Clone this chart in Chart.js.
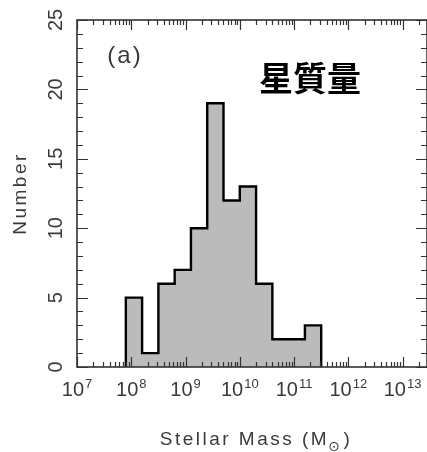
<!DOCTYPE html>
<html>
<head>
<meta charset="utf-8">
<script src="https://cdn.jsdelivr.net/npm/chart.js@4.4.0/dist/chart.umd.min.js"></script>
<style>
  html, body { margin: 0; padding: 0; background: #fff; }
  canvas { display: block; }
</style>
</head>
<body>
<canvas id="massChart" width="427" height="452"></canvas>
<script>
// Panel (a): histogram of stellar masses, x in log10(M / Msun)
const binEdges = [7.9, 8.2, 8.5, 8.8, 9.1, 9.4, 9.7, 10.0, 10.3, 10.6, 10.9, 11.2, 11.5];
const counts = [5, 1, 6, 7, 10, 19, 12, 13, 6, 2, 2, 3];
const xTickExponents = [7, 8, 9, 10, 11, 12, 13];
const yTickLabels = [0, 5, 10, 15, 20, 25];
const xRange = [7, 13.45];
const yRange = [0, 25];

const TEXT_COLOR = '#3a3a3a';
const LATIN = '"Liberation Sans", Arial, sans-serif';

// Outline of the histogram as a stepped line (value holds over the bin before each point)
const stepPoints = [{ x: binEdges[0], y: 0 }];
counts.forEach((c, i) => stepPoints.push({ x: binEdges[i + 1], y: c }));
stepPoints.push({ x: binEdges[binEdges.length - 1], y: 0 });

// Draws the boxed frame with inward ticks, the labels and the panel texts
const framePlugin = {
  id: 'frame',
  afterDatasetsDraw(chart) {
    const { ctx, chartArea: a, scales } = chart;
    const xs = scales.x, ys = scales.y;

    ctx.save();
    ctx.strokeStyle = '#333';
    ctx.lineWidth = 1.2;

    // x ticks (decades + minor 2..9), bottom and top
    ctx.beginPath();
    xTickExponents.forEach(d => {
      for (let k = 1; k <= 9; k++) {
        const v = d + Math.log10(k);
        if (v < xRange[0] || v > xRange[1]) continue;
        const px = Math.round(xs.getPixelForValue(v)) + 0.5;
        const len = k === 1 ? 10 : 5;
        ctx.moveTo(px, a.bottom); ctx.lineTo(px, a.bottom - len);
        ctx.moveTo(px, a.top); ctx.lineTo(px, a.top + len);
      }
    });
    // y ticks every unit, longer every 5
    for (let v = yRange[0]; v <= yRange[1]; v++) {
      const py = Math.round(ys.getPixelForValue(v)) + 0.5;
      const len = v % 5 === 0 ? 11 : 6;
      ctx.moveTo(a.left, py); ctx.lineTo(a.left + len, py);
      ctx.moveTo(a.right, py); ctx.lineTo(a.right - len, py);
    }
    ctx.stroke();

    ctx.lineWidth = 1.6;
    ctx.strokeRect(a.left, a.top, a.right - a.left, a.bottom - a.top);

    // x tick labels: 10 with superscript exponent
    ctx.fillStyle = TEXT_COLOR;
    ctx.textBaseline = 'alphabetic';
    ctx.textAlign = 'left';
    xTickExponents.forEach(d => {
      const px = xs.getPixelForValue(d);
      ctx.font = '20px ' + LATIN;
      const wBase = ctx.measureText('10').width;
      ctx.font = '13px ' + LATIN;
      const wExp = ctx.measureText(String(d)).width;
      const x0 = px - (wBase + 1 + wExp) / 2;
      ctx.font = '20px ' + LATIN;
      ctx.fillText('10', x0, 396);
      ctx.font = '13px ' + LATIN;
      ctx.fillText(String(d), x0 + wBase + 1, 388);
    });

    // y tick labels, rotated
    ctx.font = '20px ' + LATIN;
    ctx.textAlign = 'center';
    ctx.textBaseline = 'middle';
    yTickLabels.forEach(v => {
      const py = ys.getPixelForValue(v);
      ctx.save();
      ctx.translate(56, py);
      ctx.rotate(-Math.PI / 2);
      ctx.fillText(String(v), 0, 0);
      ctx.restore();
    });

    // y axis title
    ctx.save();
    ctx.font = '19px ' + LATIN;
    ctx.letterSpacing = '2.5px';
    ctx.translate(21, (a.top + a.bottom) / 2);
    ctx.rotate(-Math.PI / 2);
    ctx.fillText('Number', 0, 0);
    ctx.restore();

    // x axis title with sun symbol subscript
    ctx.save();
    ctx.letterSpacing = '2.5px';
    ctx.textAlign = 'left';
    ctx.textBaseline = 'alphabetic';
    const head = 'Stellar Mass (M';
    ctx.font = '19px ' + LATIN;
    const wHead = ctx.measureText(head).width;
    const wClose = ctx.measureText(')').width;
    ctx.font = '14px "DejaVu Sans", sans-serif';
    const wSun = ctx.measureText('\u2299').width;
    const tx = 256 - (wHead + wSun + wClose) / 2;
    ctx.font = '19px ' + LATIN;
    ctx.fillText(head, tx, 445);
    ctx.font = '14px "DejaVu Sans", sans-serif';
    ctx.fillText('\u2299', tx + wHead - 1, 451);
    ctx.font = '19px ' + LATIN;
    ctx.fillText(')', tx + wHead + wSun, 445);
    ctx.restore();

    // panel label
    ctx.save();
    ctx.letterSpacing = '2px';
    ctx.font = '24px ' + LATIN;
    ctx.textAlign = 'center';
    ctx.textBaseline = 'middle';
    ctx.fillText('(a)', 125, 56);
    ctx.restore();

    // quantity name
    ctx.font = 'bold 34px "Noto Sans CJK JP", "Noto Sans CJK TC", sans-serif';
    ctx.fillStyle = '#000';
    ctx.textAlign = 'center';
    ctx.textBaseline = 'middle';
    ctx.fillText('星質量', 310, 78);

    ctx.restore();
  }
};

new Chart(document.getElementById('massChart'), {
  type: 'line',
  data: {
    datasets: [{
      label: 'Number',
      data: stepPoints,
      stepped: 'after',
      fill: 'origin',
      backgroundColor: '#bbbbbb',
      borderColor: '#000',
      borderWidth: 2.4,
      pointRadius: 0,
      tension: 0,
    }],
  },
  options: {
    responsive: false,
    animation: false,
    layout: { padding: { top: 20, right: 0, left: 0, bottom: 0 } },
    plugins: {
      legend: { display: false },
      tooltip: { enabled: false },
    },
    scales: {
      x: {
        type: 'linear',
        min: xRange[0],
        max: xRange[1],
        ticks: { display: false },
        grid: { display: false },
        border: { display: false },
        afterFit(scale) { scale.height = 85; },
      },
      y: {
        min: yRange[0],
        max: yRange[1],
        ticks: { display: false },
        grid: { display: false },
        border: { display: false },
        afterFit(scale) { scale.width = 77; },
      },
    },
  },
  plugins: [framePlugin],
});
</script>
</body>
</html>
